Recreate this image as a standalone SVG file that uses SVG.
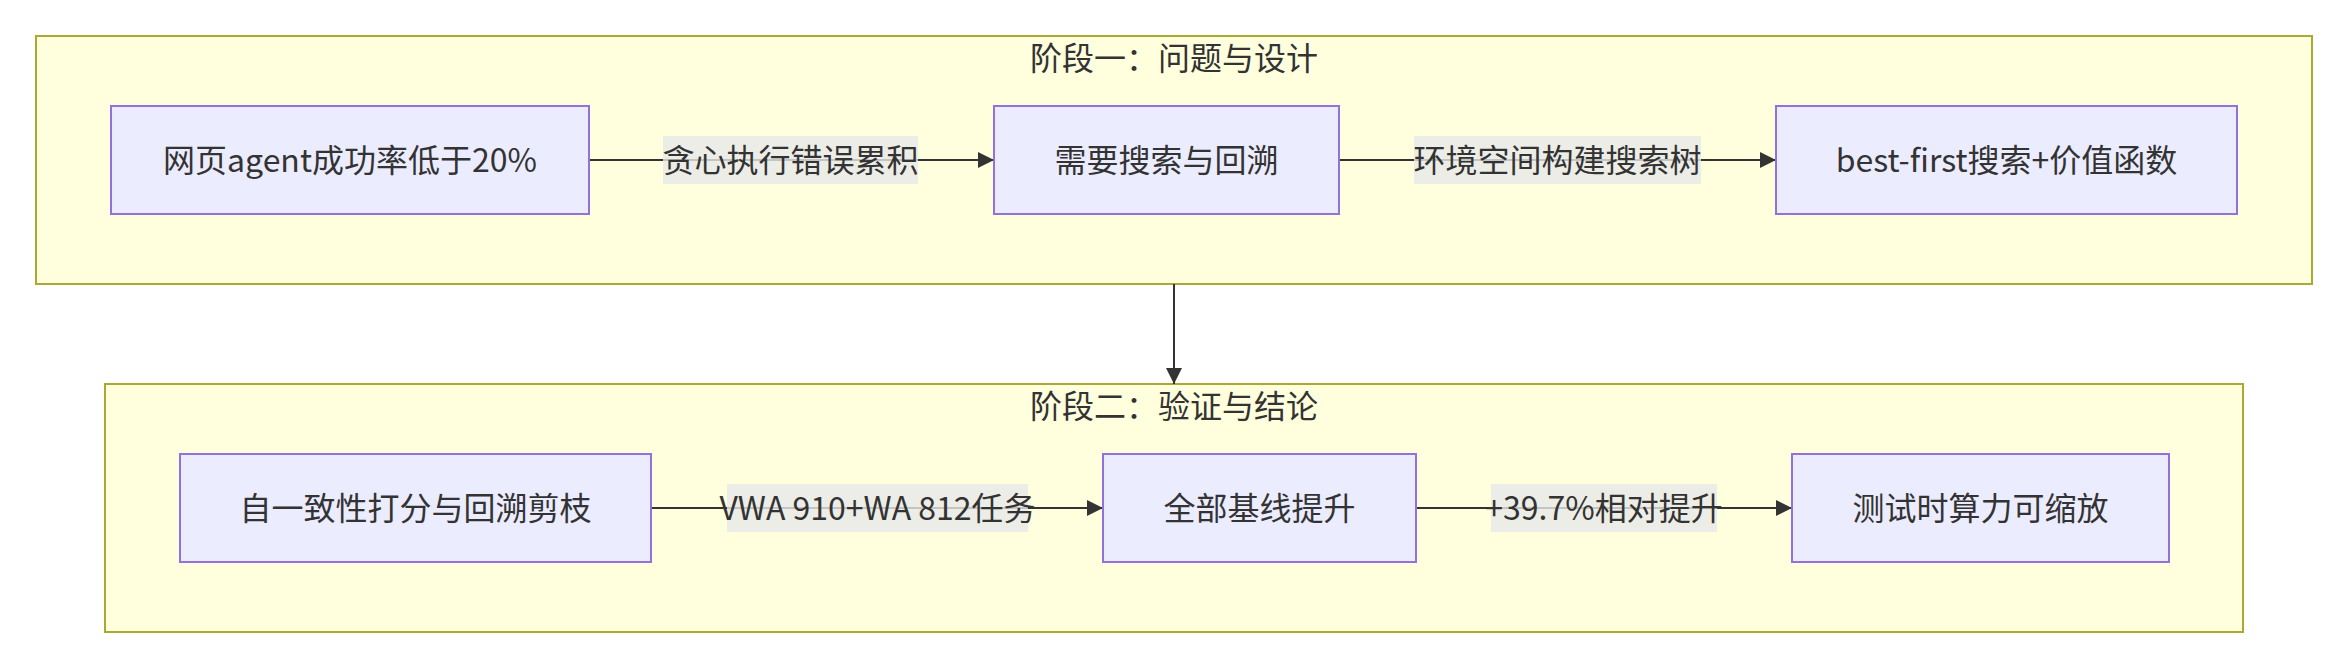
<svg xmlns="http://www.w3.org/2000/svg" width="2348" height="668" viewBox="0 0 2348 668">
<defs>
<style>
.cluster{fill:#ffffde;stroke:#aaaa33;stroke-width:2}
.node rect{fill:#ececff;stroke:#9370db;stroke-width:2}
text{font-family:"Noto Sans CJK SC","Noto Sans",sans-serif;font-size:32px;fill:#333;text-anchor:middle}
.edge{stroke:#333;stroke-width:2;fill:none}
.lbl{fill:#e8e8e8;fill-opacity:0.8}
</style>
<marker id="arrow" viewBox="0 0 10 10" refX="10" refY="5" markerWidth="8" markerHeight="8" markerUnits="userSpaceOnUse" orient="auto">
<path d="M0,0 L10,5 L0,10 z" fill="#333"/>
</marker>
<marker id="ah" viewBox="0 0 16 16" refX="16" refY="8" markerWidth="16" markerHeight="16" markerUnits="userSpaceOnUse" orient="auto">
<path d="M0,0 L16,8 L0,16 z" fill="#333"/>
</marker>
</defs>
<rect width="2348" height="668" fill="#ffffff"/>
<g id="cluster1">
<rect class="cluster" x="36" y="36" width="2276" height="248"/>
<text x="1174" y="70">阶段一：问题与设计</text>
</g>
<g id="cluster2">
<rect class="cluster" x="105" y="384" width="2138" height="248"/>
<text x="1174" y="418">阶段二：验证与结论</text>
</g>
<g id="connectors">
<path class="edge" d="M589,160 L994,160" marker-end="url(#ah)"/>
<path class="edge" d="M1339,160 L1776,160" marker-end="url(#ah)"/>
<path class="edge" d="M1174,284 L1174,384" marker-end="url(#ah)"/>
<path class="edge" d="M651,508 L1103,508" marker-end="url(#ah)"/>
<path class="edge" d="M1416,508 L1792,508" marker-end="url(#ah)"/>
<rect class="lbl" x="663" y="136" width="255" height="48"/>
<text x="790.5" y="172">贪心执行错误累积</text>
<rect class="lbl" x="1414" y="136" width="287" height="48"/>
<text x="1557.5" y="172">环境空间构建搜索树</text>
<rect class="lbl" x="727" y="484" width="301" height="48"/>
<text x="877.5" y="520">VWA 910+WA 812任务</text>
<rect class="lbl" x="1491" y="484" width="226" height="48"/>
<text x="1604" y="520">+39.7%相对提升</text>
</g>
<g id="n1" class="node">
<rect x="111" y="106" width="478" height="108"/>
<text x="350" y="172">网页agent成功率低于20%</text>
</g>
<g id="n2" class="node">
<rect x="994" y="106" width="345" height="108"/>
<text x="1166.5" y="172">需要搜索与回溯</text>
</g>
<g id="n3" class="node">
<rect x="1776" y="106" width="461" height="108"/>
<text x="2006.5" y="172">best-first搜索+价值函数</text>
</g>
<g id="n4" class="node">
<rect x="180" y="454" width="471" height="108"/>
<text x="415.5" y="520">自一致性打分与回溯剪枝</text>
</g>
<g id="n5" class="node">
<rect x="1103" y="454" width="313" height="108"/>
<text x="1259.5" y="520">全部基线提升</text>
</g>
<g id="n6" class="node">
<rect x="1792" y="454" width="377" height="108"/>
<text x="1980.5" y="520">测试时算力可缩放</text>
</g>
</svg>
